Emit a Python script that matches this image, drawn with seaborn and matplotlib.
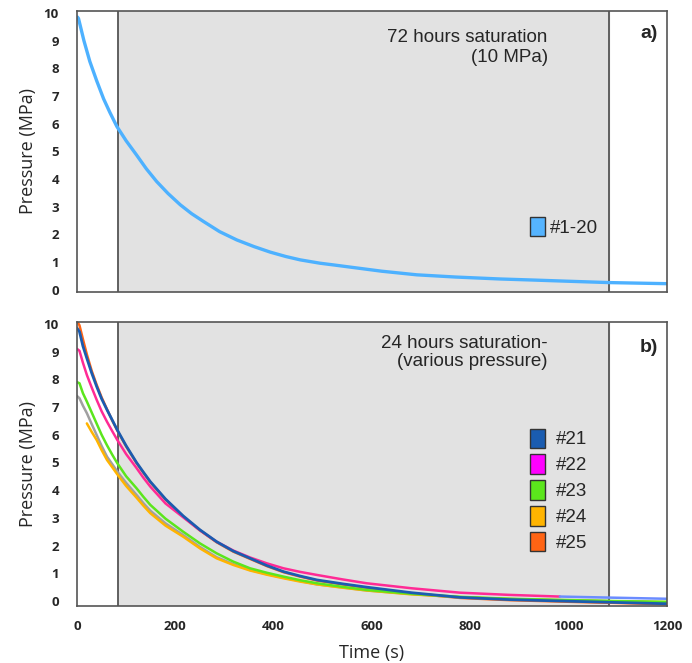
import numpy as np
import pandas as pd
import matplotlib
matplotlib.use("Agg")
import matplotlib.pyplot as plt
from matplotlib.patches import Patch
import seaborn as sns

# Panel a) : 72 hours saturation (10 MPa), samples #1-20
t_a = [1, 3, 14, 26, 40, 54, 67, 81, 100, 121, 141, 162, 185, 210, 233, 257, 290, 325, 360, 393,
       425, 454, 494, 525, 555, 620, 691, 770, 860, 930, 996, 1081, 1140, 1200]
p_a = [9.85, 9.8, 9.0, 8.25, 7.55, 6.9, 6.4, 5.9, 5.38, 4.87, 4.37, 3.91, 3.48, 3.07, 2.75, 2.47,
       2.1, 1.8, 1.56, 1.36, 1.2, 1.08, 0.96, 0.89, 0.82, 0.67, 0.54, 0.46, 0.39, 0.35, 0.31, 0.26,
       0.24, 0.22]

# Panel b) : 24 hours saturation (various pressure)
t_b = [0, 5, 12, 20, 30, 40, 50, 61, 72, 82, 100, 121, 135, 149, 180, 216, 250, 284, 318, 352,
       386, 420, 454, 488, 540, 589, 680, 779, 880, 982, 1090, 1200]
p_21 = [9.85, 9.72, 9.2, 8.76, 8.22, 7.74, 7.3, 6.9, 6.52, 6.17, 5.6, 5.0, 4.65, 4.31, 3.68, 3.07,
        2.57, 2.14, 1.8, 1.54, 1.28, 1.06, 0.9, 0.76, 0.62, 0.5, 0.3, 0.13, 0.05, 0.0, -0.05, -0.1]
p_22 = [9.1, 9.03, 8.6, 8.16, 7.7, 7.26, 6.85, 6.47, 6.12, 5.81, 5.3, 4.8, 4.45, 4.13, 3.52, 3.02,
        2.55, 2.14, 1.82, 1.57, 1.36, 1.18, 1.05, 0.94, 0.78, 0.64, 0.46, 0.30, 0.22, 0.16,
        np.nan, np.nan]
p_23 = [7.9, 7.86, 7.5, 7.2, 6.8, 6.4, 6.0, 5.62, 5.27, 4.97, 4.5, 4.07, 3.76, 3.47, 2.97, 2.5,
        2.08, 1.72, 1.42, 1.18, 1.02, 0.88, 0.75, 0.64, 0.51, 0.40, 0.26, 0.15, 0.08, 0.04, 0.0, -0.03]
p_24 = [np.nan, np.nan, np.nan, 6.41, 6.1, 5.81, 5.45, 5.09, 4.82, 4.57, 4.15, 3.73, 3.44, 3.17,
        2.72, 2.32, 1.9, 1.54, 1.3, 1.1, 0.95, 0.82, 0.7, 0.6, 0.48, 0.38, 0.24, 0.14, 0.07, 0.03,
        -0.01, -0.04]
p_25 = [10.1, 9.95, 9.45, 8.9, 8.3, 7.8, 7.35, 6.92, 6.5, 6.15, 5.58, 4.98, 4.63, 4.29, 3.66, 3.05,
        2.55, 2.12, 1.78, 1.52, 1.26, 1.04, 0.88, 0.74, 0.6, 0.48, 0.28, 0.11, 0.03, -0.02, -0.07, -0.12]
p_grey = [7.4, 7.32, 7.05, 6.78, 6.38, 5.99, 5.6, 5.21, 4.93, 4.67, 4.26, 3.83, 3.53, 3.26, 2.8, 2.38,
          1.95, 1.58, 1.33, 1.12, 0.97, 0.84, 0.72, 0.6, 0.49, 0.38, 0.25, 0.13, 0.07, 0.02, -0.02, -0.05]
# pale blue tail after #22 stops
t_tail = [982, 1090, 1200]
p_tail = [0.16, 0.12, 0.08]

labels_b = ["#21", "#22", "#23", "#24", "#25"]
colors_b = ["#1a5cb0", "#ff2a95", "#5be61c", "#ffb400", "#ff6414"]
legend_b = ["#1a5cb0", "#ff00ff", "#5be61c", "#ffb400", "#ff6414"]

t_start, t_end = 83, 1083  # shaded window

sns.set_style("white")
plt.rcParams["font.family"] = ["Open Sans", "DejaVu Sans"]

fig = plt.figure(figsize=(6.92, 6.63), dpi=100)
ax1 = fig.add_axes([0.1113, 0.5596, 0.8526, 0.4238])
ax2 = fig.add_axes([0.1113, 0.0860, 0.8526, 0.4283])

for ax in (ax1, ax2):
    ax.axvspan(t_start, t_end, color="#e2e2e2", zorder=0)
    ax.axvline(t_start, color="#555555", lw=1.3, zorder=1)
    ax.axvline(t_end, color="#555555", lw=1.3, zorder=1)
    ax.set_xlim(0, 1200)
    ax.set_yticks(range(0, 11))
    ax.tick_params(length=0)
    ax.tick_params(axis="y", pad=13, labelsize=9.5)
    ax.tick_params(axis="x", pad=10, labelsize=9.5)
    for s in ax.spines.values():
        s.set_color("#555555")
        s.set_linewidth(1.2)
    ax.set_ylabel("Pressure (MPa)", fontsize=13, labelpad=5)

# panel a
sns.lineplot(x=t_a, y=p_a, color="#4db1ff", lw=2.4, ax=ax1)
ax1.set_ylim(-0.08, 10.07)
ax1.set_xticks(range(0, 1201, 200))
ax1.set_xticklabels([])
ax1.text(0.798, 0.935, "72 hours saturation\n(10 MPa)", transform=ax1.transAxes,
         ha="right", va="top", fontsize=13.5, family="Liberation Sans", linespacing=1.2)
ax1.text(0.985, 0.92, "a)", transform=ax1.transAxes, ha="right", va="center",
         fontsize=14, fontweight="bold", family="Liberation Sans")
ax1.legend(handles=[Patch(facecolor="#55b4ff", edgecolor="#333333", label="#1-20")],
           loc="center left", bbox_to_anchor=(0.768, 0.231), frameon=False, borderpad=0,
           borderaxespad=0, handlelength=0.8, handleheight=1.2, handletextpad=0.25,
           prop={"family": "Liberation Sans", "size": 13.5})

# panel b
sns.lineplot(x=t_b, y=p_25, color=colors_b[4], lw=1.8, ax=ax2)
sns.lineplot(x=t_b, y=p_grey, color="#a0a0a0", lw=1.8, ax=ax2)
sns.lineplot(x=t_b, y=p_24, color=colors_b[3], lw=1.8, ax=ax2)
sns.lineplot(x=t_b, y=p_23, color=colors_b[2], lw=1.8, ax=ax2)
sns.lineplot(x=t_b, y=p_22, color=colors_b[1], lw=1.8, ax=ax2)
sns.lineplot(x=t_tail, y=p_tail, color="#6b8cff", lw=1.8, ax=ax2)
sns.lineplot(x=t_b, y=p_21, color=colors_b[0], lw=2.0, ax=ax2)
ax2.set_ylim(-0.18, 10.07)
ax2.set_xticks(range(0, 1201, 200))
ax2.set_xlabel("Time (s)", fontsize=13, labelpad=8)
ax2.text(0.798, 0.955, "24 hours saturation-\n(various pressure)", transform=ax2.transAxes,
         ha="right", va="top", fontsize=13.5, family="Liberation Sans", linespacing=1.1)
ax2.text(0.985, 0.91, "b)", transform=ax2.transAxes, ha="right", va="center",
         fontsize=14, fontweight="bold", family="Liberation Sans")
handles = [Patch(facecolor=c, edgecolor="#333333", label=l) for c, l in zip(legend_b, labels_b)]
ax2.legend(handles=handles, loc="upper left", bbox_to_anchor=(0.768, 0.625), frameon=False,
           handlelength=0.8, handleheight=1.2, handletextpad=0.55, labelspacing=0.32,
           borderpad=0, borderaxespad=0, prop={"family": "Liberation Sans", "size": 13.5})

for ax in (ax1, ax2):
    plt.setp(ax.get_yticklabels(), fontweight="bold")
    plt.setp(ax.get_xticklabels(), fontweight="bold")

fig.savefig("out.png", dpi=100, facecolor="white")
